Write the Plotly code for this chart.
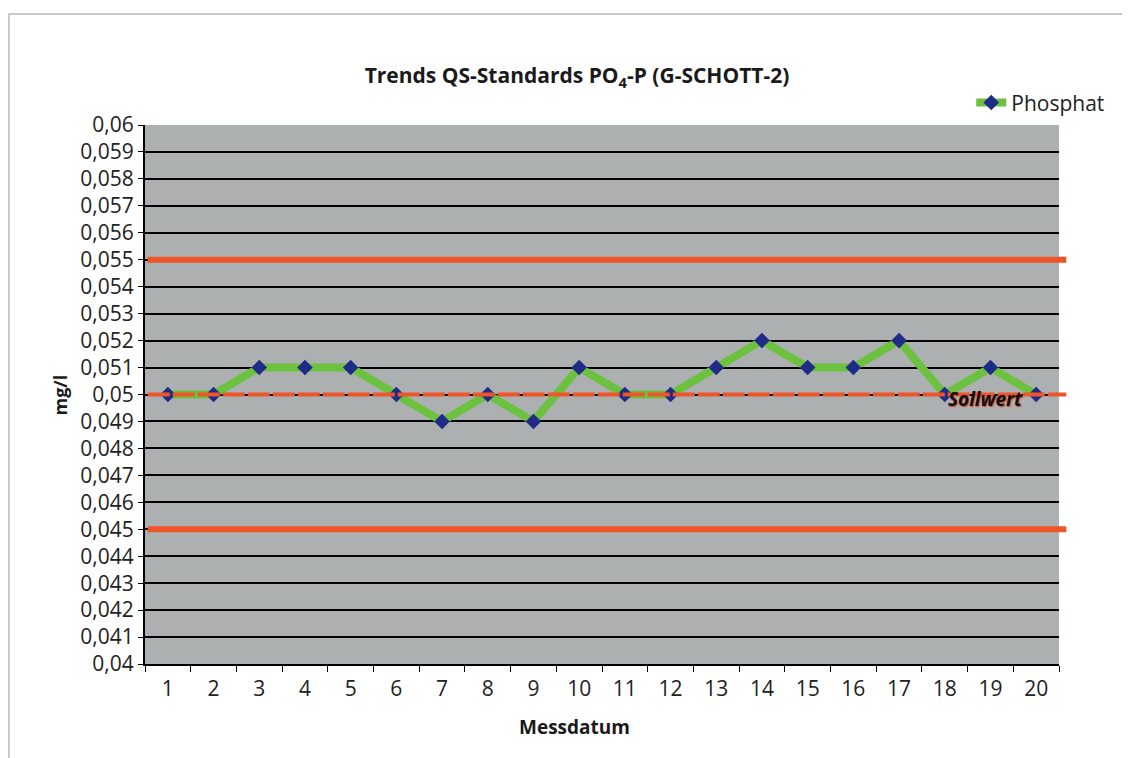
import plotly.graph_objects as go

# Messwerte (mg/l) je Messdatum
messdatum = [str(i) for i in range(1, 21)]
phosphat = [0.050, 0.050, 0.051, 0.051, 0.051, 0.050, 0.049, 0.050, 0.049, 0.051,
            0.050, 0.050, 0.051, 0.052, 0.051, 0.051, 0.052, 0.050, 0.051, 0.050]

sollwert = 0.050
grenzen = [0.055, 0.045]

y_ticks = [round(0.04 + i * 0.001, 3) for i in range(21)]
y_labels = [f"{v:g}".replace(".", ",") for v in y_ticks]

FONT = "Open Sans, DejaVu Sans, sans-serif"
ROT = "#ee5528"

fig = go.Figure()

fig.add_trace(go.Scatter(
    x=messdatum, y=phosphat, name="Phosphat", mode="lines+markers",
    line=dict(color="#6cc13f", width=8),
    marker=dict(symbol="diamond", size=12, color="#1f2b86"),
))

# Grenzlinien
for g in grenzen:
    fig.add_shape(type="line", xref="paper", yref="y", x0=0.003, x1=1.008, y0=g, y1=g,
                  line=dict(color=ROT, width=6), layer="above")
# Sollwert
fig.add_shape(type="line", xref="paper", yref="y", x0=0.003, x1=1.008, y0=sollwert, y1=sollwert,
              line=dict(color=ROT, width=4, dash="22px,3px"), layer="above")

fig.add_annotation(x=17.9, y=0.04985, xref="x", yref="y", text="<b><i>Sollwert</i></b>",
                   showarrow=False, font=dict(family=FONT, size=19, color="#111111",
                                              shadow="1px 1px 1px #e0402a"))

# Achsentitel
fig.add_annotation(x=0.47, y=-0.116, xref="paper", yref="paper", text="<b>Messdatum</b>",
                   showarrow=False, yanchor="middle", font=dict(size=19, color="#1a1a1a"))
fig.add_annotation(x=-0.093, y=0.5, xref="paper", yref="paper", text="<b>mg/l</b>",
                   showarrow=False, textangle=-90, xanchor="center", font=dict(size=18, color="#1a1a1a"))

# Außenrahmen
fig.add_shape(type="rect", xref="paper", yref="paper", x0=-0.149, x1=1.2, y0=-0.2, y1=1.206,
              line=dict(color="#c8c8c8", width=2), layer="below")

fig.update_layout(
    width=1130, height=758,
    margin=dict(l=137, r=79, t=117, b=102),
    paper_bgcolor="white", plot_bgcolor="#adb0b1",
    font=dict(family=FONT, size=21, color="#222222"),
    title=dict(text="<b>Trends QS-Standards PO<sub>4</sub>-P (G-SCHOTT-2)</b>",
               x=569 / 1130, xanchor="center", y=1 - 68 / 758, yanchor="middle",
               font=dict(size=21, color="#1a1a1a")),
    legend=dict(x=0.904, y=1.041, xanchor="left", yanchor="middle",
                bgcolor="rgba(0,0,0,0)", font=dict(size=21, color="#222222")),
    showlegend=True,
)

fig.update_xaxes(
    type="category", tickson="boundaries", range=[-0.5, 19.5],
    ticks="outside", ticklen=6, tickcolor="black", ticklabelstandoff=5,
    showline=True, linecolor="black", linewidth=2, showgrid=False, mirror=False,
)
fig.update_yaxes(
    range=[0.04, 0.06], tickvals=y_ticks, ticktext=y_labels,
    ticks="outside", ticklen=5, tickcolor="black",
    showline=True, linecolor="black", linewidth=2,
    showgrid=True, gridcolor="black", gridwidth=2, zeroline=False,
)

fig.write_html("out.html")
